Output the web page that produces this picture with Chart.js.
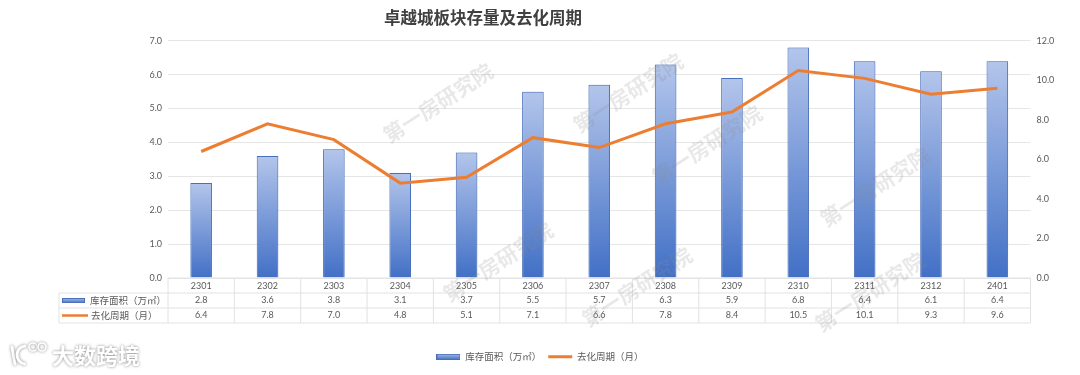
<!DOCTYPE html>
<html><head><meta charset="utf-8">
<style>html,body{margin:0;padding:0;background:#fff}#w{position:relative;width:1080px;height:375px}canvas{display:block}</style>
<script src="https://cdn.jsdelivr.net/npm/chart.js@4"></script>
</head><body><div id="w"><canvas id="c" width="1080" height="375"></canvas></div>
<script>
const titleText = '卓越城板块存量及去化周期';
const categories = ['2301','2302','2303','2304','2305','2306','2307','2308','2309','2310','2311','2312','2401'];
const inventory = [2.8,3.6,3.8,3.1,3.7,5.5,5.7,6.3,5.9,6.8,6.4,6.1,6.4];
const cycle = [6.4,7.8,7.0,4.8,5.1,7.1,6.6,7.8,8.4,10.5,10.1,9.3,9.6];
const inventoryLabel = '库存面积（万㎡）';
const cycleLabel = '去化周期（月）';
const watermarkText = '第一房研究院';
const logoText = '大数跨境';
const watermarks = [[438,103],[628,93],[707,145],[875,187],[498,262],[637,287],[870,292]];

const FONT = '"Lato","Noto Sans CJK SC",sans-serif';
const CJK = '"Noto Sans CJK SC",sans-serif';
const TXT = '#595959';
const LINE = '#e2e2e2';

function keyCanvas(w,h){
  const k=document.createElement('canvas');k.width=w;k.height=h;
  const x=k.getContext('2d');const g=x.createLinearGradient(0,0,0,h);
  g.addColorStop(0,'#a9bde8');g.addColorStop(1,'#4472c4');
  x.fillStyle=g;x.fillRect(0,0,w,h);x.strokeStyle='#4a6fb8';x.lineWidth=1;x.strokeRect(.5,.5,w-1,h-1);
  return k;
}
const legendKey = keyCanvas(24,6);

const tablePlugin = {
  id:'tableAndMarks',
  afterLayout(chart){
    chart.titleBlock.left=0;chart.titleBlock.right=966;
    chart.legend.left=0;chart.legend.right=1080;
  },
  beforeDatasetDraw(chart,args){
    if(args.index===0){const c=chart.ctx;c.save();c.shadowColor='rgba(68,114,196,.35)';c.shadowBlur=4;c.shadowOffsetX=1;}
  },
  afterDatasetDraw(chart,args){ if(args.index===0) chart.ctx.restore(); },
  afterDraw(chart){
    const c=chart.ctx,a=chart.chartArea,x=chart.scales.x;
    const L=a.left,R=a.right,T=a.bottom,rowH=15,X0=59;
    const y1=T+rowH,y2=T+2*rowH,y3=T+3*rowH;
    c.save();
    c.strokeStyle=LINE;c.lineWidth=1;c.beginPath();
    const hl=(xa,xb,y)=>{c.moveTo(xa,y);c.lineTo(xb,y);};
    const vl=(xp,ya,yb)=>{c.moveTo(xp,ya);c.lineTo(xp,yb);};
    hl(L,R,T);hl(X0,R,y1);hl(X0,R,y2);hl(X0,R,y3);
    vl(X0,y1,y3);vl(R,T,y3);
    categories.forEach((_,i)=>{vl(x.getPixelForValue(i)-(R-L)/categories.length/2,T,y3);});
    c.stroke();
    c.fillStyle=TXT;c.font='9px '+FONT;c.textAlign='center';c.textBaseline='middle';
    categories.forEach((_,i)=>{
      const px=x.getPixelForValue(i);
      c.fillText(inventory[i].toFixed(1),px,y1+7.5);
      c.fillText(cycle[i].toFixed(1),px,y2+7.5);
    });
    c.drawImage(legendKey,62,y1+5,23,5);
    c.strokeStyle='#ed7d31';c.lineWidth=2.5;c.beginPath();c.moveTo(62,y2+7.5);c.lineTo(88,y2+7.5);c.stroke();
    c.fillStyle=TXT;c.font='9.5px '+CJK;c.textAlign='left';
    c.fillText(inventoryLabel,90,y1+7.5);
    c.fillText(cycleLabel,91,y2+7.5);
    // watermarks
    c.font='bold 21px '+CJK;c.textAlign='center';c.fillStyle='rgba(140,140,140,.2)';
    watermarks.forEach(([wx,wy])=>{c.save();c.translate(wx,wy);c.rotate(-33*Math.PI/180);c.fillText(watermarkText,0,0);c.restore();});
    // logo
    c.save();
    c.shadowColor='rgba(90,90,90,.75)';c.shadowBlur=3;
    c.fillStyle='#fff';c.strokeStyle='#fff';
    c.font='bold 22px '+CJK;c.textAlign='left';c.fillText(logoText,52,356);
    c.lineWidth=3;c.lineCap='round';
    c.beginPath();c.moveTo(12,347);c.lineTo(15,364);c.stroke();
    c.beginPath();c.arc(26,355,9,.55*Math.PI,1.45*Math.PI);c.stroke();
    c.lineWidth=1.6;
    c.beginPath();c.arc(33,347,4,0,7);c.stroke();
    c.beginPath();c.arc(42,347,4,0,7);c.stroke();
    c.restore();
    c.restore();
  }
};

new Chart(document.getElementById('c'),{
  data:{labels:categories,datasets:[
    {type:'bar',label:inventoryLabel,data:inventory,yAxisID:'y',order:2,
     categoryPercentage:1,barPercentage:.325,borderWidth:1,borderColor:'#4a6fb8',
     backgroundColor(ctx){
       const ch=ctx.chart,y=ch.scales.y;
       if(ctx.dataIndex===undefined||!ch.chartArea||!y) return '#4472c4';
       const g=ch.ctx.createLinearGradient(0,y.getPixelForValue(inventory[ctx.dataIndex]),0,y.getPixelForValue(0));
       g.addColorStop(0,'#b3c5eb');g.addColorStop(1,'#4270c6');return g;
     }},
    {type:'line',label:cycleLabel,data:cycle,yAxisID:'y1',order:1,borderColor:'#ed7d31',backgroundColor:'#ed7d31',borderWidth:3,pointRadius:0,tension:0,fill:false}
  ]},
  plugins:[tablePlugin],
  options:{
    responsive:false,animation:false,devicePixelRatio:1,
    layout:{padding:{bottom:3.5}},
    scales:{
      x:{offset:true,grid:{display:false,drawTicks:false},border:{display:false},
         ticks:{color:TXT,font:{family:FONT,size:9},padding:3,maxRotation:0,autoSkip:false},
         afterFit(s){s.height=67;}},
      y:{position:'left',min:0,max:7,grid:{color:'#e6e6e6',drawTicks:false},border:{display:false},
         ticks:{stepSize:1,color:TXT,font:{family:FONT,size:9},padding:6,callback:v=>v.toFixed(1)},
         afterFit(s){s.width=168;}},
      y1:{position:'right',min:0,max:12,grid:{display:false,drawTicks:false},border:{display:false},
         ticks:{stepSize:2,color:TXT,font:{family:FONT,size:9},padding:6,callback:v=>v.toFixed(1)},
         afterFit(s){s.width=49.5;}}
    },
    plugins:{
      tooltip:{enabled:false},
      title:{display:true,text:titleText,color:'#404040',font:{family:CJK,size:16.5,weight:'bold'},padding:{top:8,bottom:13}},
      legend:{position:'bottom',labels:{usePointStyle:true,pointStyleWidth:24,boxHeight:10,padding:7,color:TXT,font:{family:CJK,size:9.5},
        generateLabels(ch){
          const items=Chart.defaults.plugins.legend.labels.generateLabels(ch);
          items.sort((p,q)=>p.datasetIndex-q.datasetIndex);
          items[0].pointStyle=legendKey;items[1].pointStyle='line';items[1].lineWidth=3;items[1].strokeStyle='#ed7d31';
          return items;
        }}}
    }
  }
});
</script></body></html>
